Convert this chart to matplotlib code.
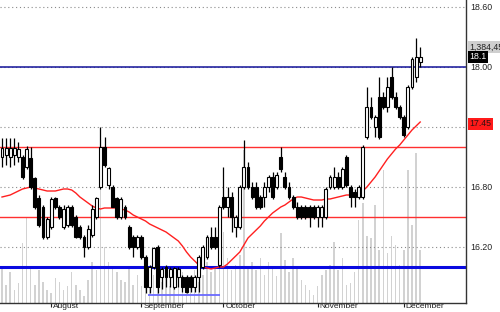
import matplotlib
matplotlib.use("Agg")
import matplotlib.pyplot as plt
import matplotlib.transforms as mtransforms
import numpy as np

plt.rcParams['font.family'] = ['Liberation Sans', 'DejaVu Sans']

# daily candles, mid July .. early December
opens = [17.10, 17.12, 17.10, 17.12, 17.10, 17.10, 17.00, 17.09, 16.89, 16.69,
         16.60, 16.30, 16.40, 16.69, 16.60, 16.40, 16.42, 16.60, 16.50, 16.40,
         16.30, 16.20, 16.32, 16.50, 16.80, 17.20, 16.82, 16.80, 16.69, 16.50,
         16.60, 16.40, 16.30, 16.20, 16.30, 16.10, 15.80, 16.00, 16.20, 15.90,
         16.00, 15.90, 15.80, 15.90, 15.90, 15.90, 15.90, 15.80, 15.90, 16.00,
         16.10, 16.30, 16.30, 16.02, 16.70, 16.60, 16.70, 16.40, 16.40, 16.80,
         17.00, 16.80, 16.80, 16.70, 16.70, 16.80, 16.90, 16.80, 17.10, 16.90,
         16.80, 16.70, 16.60, 16.60, 16.60, 16.60, 16.60, 16.50, 16.50, 16.50,
         16.80, 16.80, 16.90, 16.80, 17.10, 16.80, 16.75, 16.70, 16.70, 17.30,
         17.60, 17.40, 17.70, 17.70, 17.60, 17.90, 17.70, 17.60, 17.50, 17.40,
         17.80, 17.90, 18.05]
highs = [17.29, 17.29, 17.29, 17.29, 17.25, 17.12, 17.21, 17.20, 16.90, 16.72,
         16.62, 16.50, 16.70, 16.70, 16.62, 16.62, 16.62, 16.62, 16.52, 16.42,
         16.32, 16.42, 16.62, 16.70, 17.40, 17.30, 17.00, 16.82, 16.70, 16.70,
         16.62, 16.42, 16.32, 16.32, 16.32, 16.12, 16.02, 16.20, 16.22, 16.00,
         16.02, 16.00, 16.00, 16.00, 15.92, 15.92, 15.92, 15.92, 16.12, 16.22,
         16.32, 16.40, 16.40, 16.62, 17.00, 16.80, 16.75, 16.52, 16.82, 17.27,
         17.05, 16.85, 16.85, 16.72, 16.85, 16.92, 16.95, 16.95, 17.20, 16.95,
         16.85, 16.72, 16.65, 16.62, 16.62, 16.62, 16.62, 16.62, 16.62, 16.80,
         16.92, 17.00, 16.95, 17.00, 17.12, 16.82, 16.78, 16.82, 17.22, 17.80,
         17.70, 17.52, 17.90, 17.75, 17.90, 18.00, 17.75, 17.62, 17.52, 17.82,
         18.10, 18.29, 18.20]
lows = [17.00, 17.02, 17.00, 17.02, 17.05, 16.88, 16.98, 16.78, 16.58, 16.40,
        16.28, 16.28, 16.38, 16.58, 16.48, 16.38, 16.40, 16.40, 16.29, 16.28,
        16.10, 16.18, 16.30, 16.48, 16.78, 17.00, 16.78, 16.60, 16.48, 16.48,
        16.48, 16.18, 16.10, 16.18, 16.08, 15.74, 15.74, 15.98, 15.74, 15.78,
        15.80, 15.80, 15.78, 15.80, 15.75, 15.74, 15.75, 15.75, 15.75, 15.98,
        16.08, 16.18, 16.18, 16.00, 16.58, 16.50, 16.35, 16.30, 16.38, 16.78,
        16.78, 16.68, 16.58, 16.58, 16.60, 16.75, 16.68, 16.78, 16.95, 16.78,
        16.68, 16.58, 16.48, 16.48, 16.48, 16.40, 16.48, 16.40, 16.40, 16.48,
        16.78, 16.78, 16.78, 16.78, 16.80, 16.60, 16.60, 16.68, 16.68, 17.28,
        17.48, 17.30, 17.28, 17.58, 17.55, 17.68, 17.58, 17.48, 17.30, 17.38,
        17.78, 17.85, 18.00]
closes = [17.19, 17.19, 17.19, 17.19, 17.18, 16.90, 17.18, 16.80, 16.60, 16.42,
          16.30, 16.48, 16.68, 16.60, 16.50, 16.58, 16.60, 16.42, 16.30, 16.30,
          16.20, 16.38, 16.58, 16.69, 17.20, 17.02, 16.99, 16.60, 16.50, 16.68,
          16.50, 16.20, 16.20, 16.30, 16.10, 15.80, 16.00, 16.19, 15.80, 15.98,
          15.90, 15.98, 15.99, 15.98, 15.80, 15.75, 15.80, 15.90, 16.10, 16.20,
          16.30, 16.20, 16.20, 16.60, 16.60, 16.70, 16.50, 16.50, 16.80, 17.00,
          16.80, 16.70, 16.60, 16.60, 16.80, 16.90, 16.70, 16.92, 16.98, 16.80,
          16.70, 16.60, 16.50, 16.50, 16.50, 16.50, 16.50, 16.60, 16.60, 16.78,
          16.90, 16.90, 16.80, 16.98, 16.82, 16.70, 16.70, 16.80, 17.20, 17.60,
          17.50, 17.50, 17.30, 17.60, 17.80, 17.70, 17.60, 17.50, 17.32, 17.80,
          18.08, 18.10, 18.10]
# 20 day moving average (as drawn)
ma20 = [16.70, 16.71, 16.72, 16.74, 16.76, 16.78, 16.79, 16.80, 16.79, 16.78,
        16.77, 16.76, 16.76, 16.76, 16.77, 16.78, 16.78, 16.77, 16.74, 16.70,
        16.67, 16.64, 16.61, 16.59, 16.58, 16.59, 16.59, 16.59, 16.59, 16.58,
        16.57, 16.55, 16.52, 16.50, 16.48, 16.46, 16.43, 16.41, 16.39, 16.37,
        16.35, 16.32, 16.29, 16.26, 16.21, 16.15, 16.10, 16.06, 16.02, 16.00,
        15.99, 15.98, 15.99, 16.00, 16.00, 16.03, 16.07, 16.11, 16.15, 16.22,
        16.29, 16.33, 16.37, 16.41, 16.46, 16.50, 16.54, 16.57, 16.60, 16.62,
        16.65, 16.68, 16.70, 16.70, 16.69, 16.68, 16.67, 16.67, 16.67, 16.68,
        16.68, 16.69, 16.70, 16.71, 16.72, 16.72, 16.72, 16.73, 16.76, 16.80,
        16.85, 16.90, 16.96, 17.02, 17.08, 17.13, 17.18, 17.22, 17.27, 17.32,
        17.37, 17.41, 17.45]
# volume in thousands of shares
volume = [350, 180, 310, 130, 200, 600, 860, 350, 180, 330,
          210, 130, 100, 250, 210, 130, 170, 310, 180, 130,
          70, 230, 410, 330, 1530, 560, 410, 350, 310, 230,
          210, 350, 180, 280, 170, 410, 330, 280, 430, 210,
          330, 170, 270, 230, 310, 190, 270, 330, 210, 280,
          410, 310, 370, 410, 710, 450, 330, 380, 480, 1530,
          350, 410, 330, 450, 280, 410, 350, 270, 700, 430,
          310, 450, 350, 230, 180, 130, 80, 170, 280, 330,
          380, 610, 330, 450, 180, 200, 310, 830, 1000, 670,
          650, 980, 530, 1330, 500, 670, 580, 380, 530, 1330,
          780, 1500, 530]

month_idx = [12, 34, 54, 77, 98]
month_names = ['August', 'September', 'October', 'November', 'December']

resistance = [17.2, 16.5]
support = 16.0
top_line = 18.0
low_support = 15.72
low_support_span = (35.5, 53.2)

x = np.arange(len(closes))
o = np.array(opens)
c = np.array(closes)
up = c >= o

fig = plt.figure(figsize=(5, 3.12), dpi=100)
ax = fig.add_axes([0, 9 / 312, 466 / 500, 303 / 312])
ax2 = ax.twinx()

# volume underneath
ax2.bar(x, volume, width=0.35, color='#d2d2d2', linewidth=0)
ax2.set_ylim(0, 3030)
ax2.set_yticks([])
for s in ax2.spines.values():
    s.set_visible(False)
ax.set_zorder(ax2.get_zorder() + 1)
ax.patch.set_visible(False)

ax.set_axisbelow(True)
ax.yaxis.grid(True, linestyle=(0, (1, 2.5)), color='#8a8a8a', linewidth=0.8)

for lvl in resistance:
    ax.axhline(lvl, color='#ff3030', linewidth=1, zorder=1)
ax.axhline(support, color='#0a0ae0', linewidth=2.2, zorder=1)
ax.axhline(top_line, color='#14149a', linewidth=1.1, zorder=1)
ax.hlines(low_support, *low_support_span, color='#6a6aff', linewidth=1.3, zorder=1)

ax.plot(x, ma20, color='#ff2020', linewidth=1, zorder=2)

# candles
ax.vlines(x, lows, highs, color='black', linewidth=0.9, zorder=3)
body = np.abs(c - o)
body = np.where(body < 0.015, 0.015, body)
ax.bar(x, body, bottom=np.minimum(o, c), width=0.72,
       color=np.where(up, 'white', 'black'), edgecolor='black',
       linewidth=0.8, zorder=4)

ax.set_xlim(-0.49, 113.17)
ax.set_ylim(15.64, 18.67)

ax.yaxis.tick_right()
ax.set_yticks([16.2, 16.8, 17.4, 18.0, 18.6])
ax.set_yticklabels(['16.20', '16.80', '17.40', '18.00', '18.60'])
ax.tick_params(axis='y', length=0, pad=3, labelsize=6.3, colors='#222222')
ax.set_xticks(month_idx)
ax.set_xticklabels(month_names, ha='left')
ax.tick_params(axis='x', length=3, width=0.8, pad=-2.8, labelsize=6,
               colors='#222222', direction='out')
shift = mtransforms.ScaledTranslation(2 / 100, 0, fig.dpi_scale_trans)
for lbl in ax.get_xticklabels():
    lbl.set_transform(lbl.get_transform() + shift)

for side in ['top', 'left']:
    ax.spines[side].set_visible(False)
for side in ['right', 'bottom']:
    ax.spines[side].set_color('#333333')
    ax.spines[side].set_linewidth(1)

tb = dict(boxstyle='square,pad=0.15', linewidth=0)
ax.text(1.008, 18.20, '1,384,450', transform=ax.get_yaxis_transform(),
        fontsize=6.3, va='center', ha='left', color='#222222',
        bbox=dict(tb, facecolor='#cfcfcf'), zorder=10)
ax.text(1.008, closes[-1], '18.1', transform=ax.get_yaxis_transform(),
        fontsize=6.3, va='center', ha='left', color='white',
        bbox=dict(tb, facecolor='black'), zorder=10, clip_on=False)
ax.text(1.008, ma20[-1] - 0.02, '17.45', transform=ax.get_yaxis_transform(),
        fontsize=6.3, va='center', ha='left', color='#331111',
        bbox=dict(tb, facecolor='#ff1a1a'), zorder=10, clip_on=False)

fig.savefig('out.png', dpi=100)
